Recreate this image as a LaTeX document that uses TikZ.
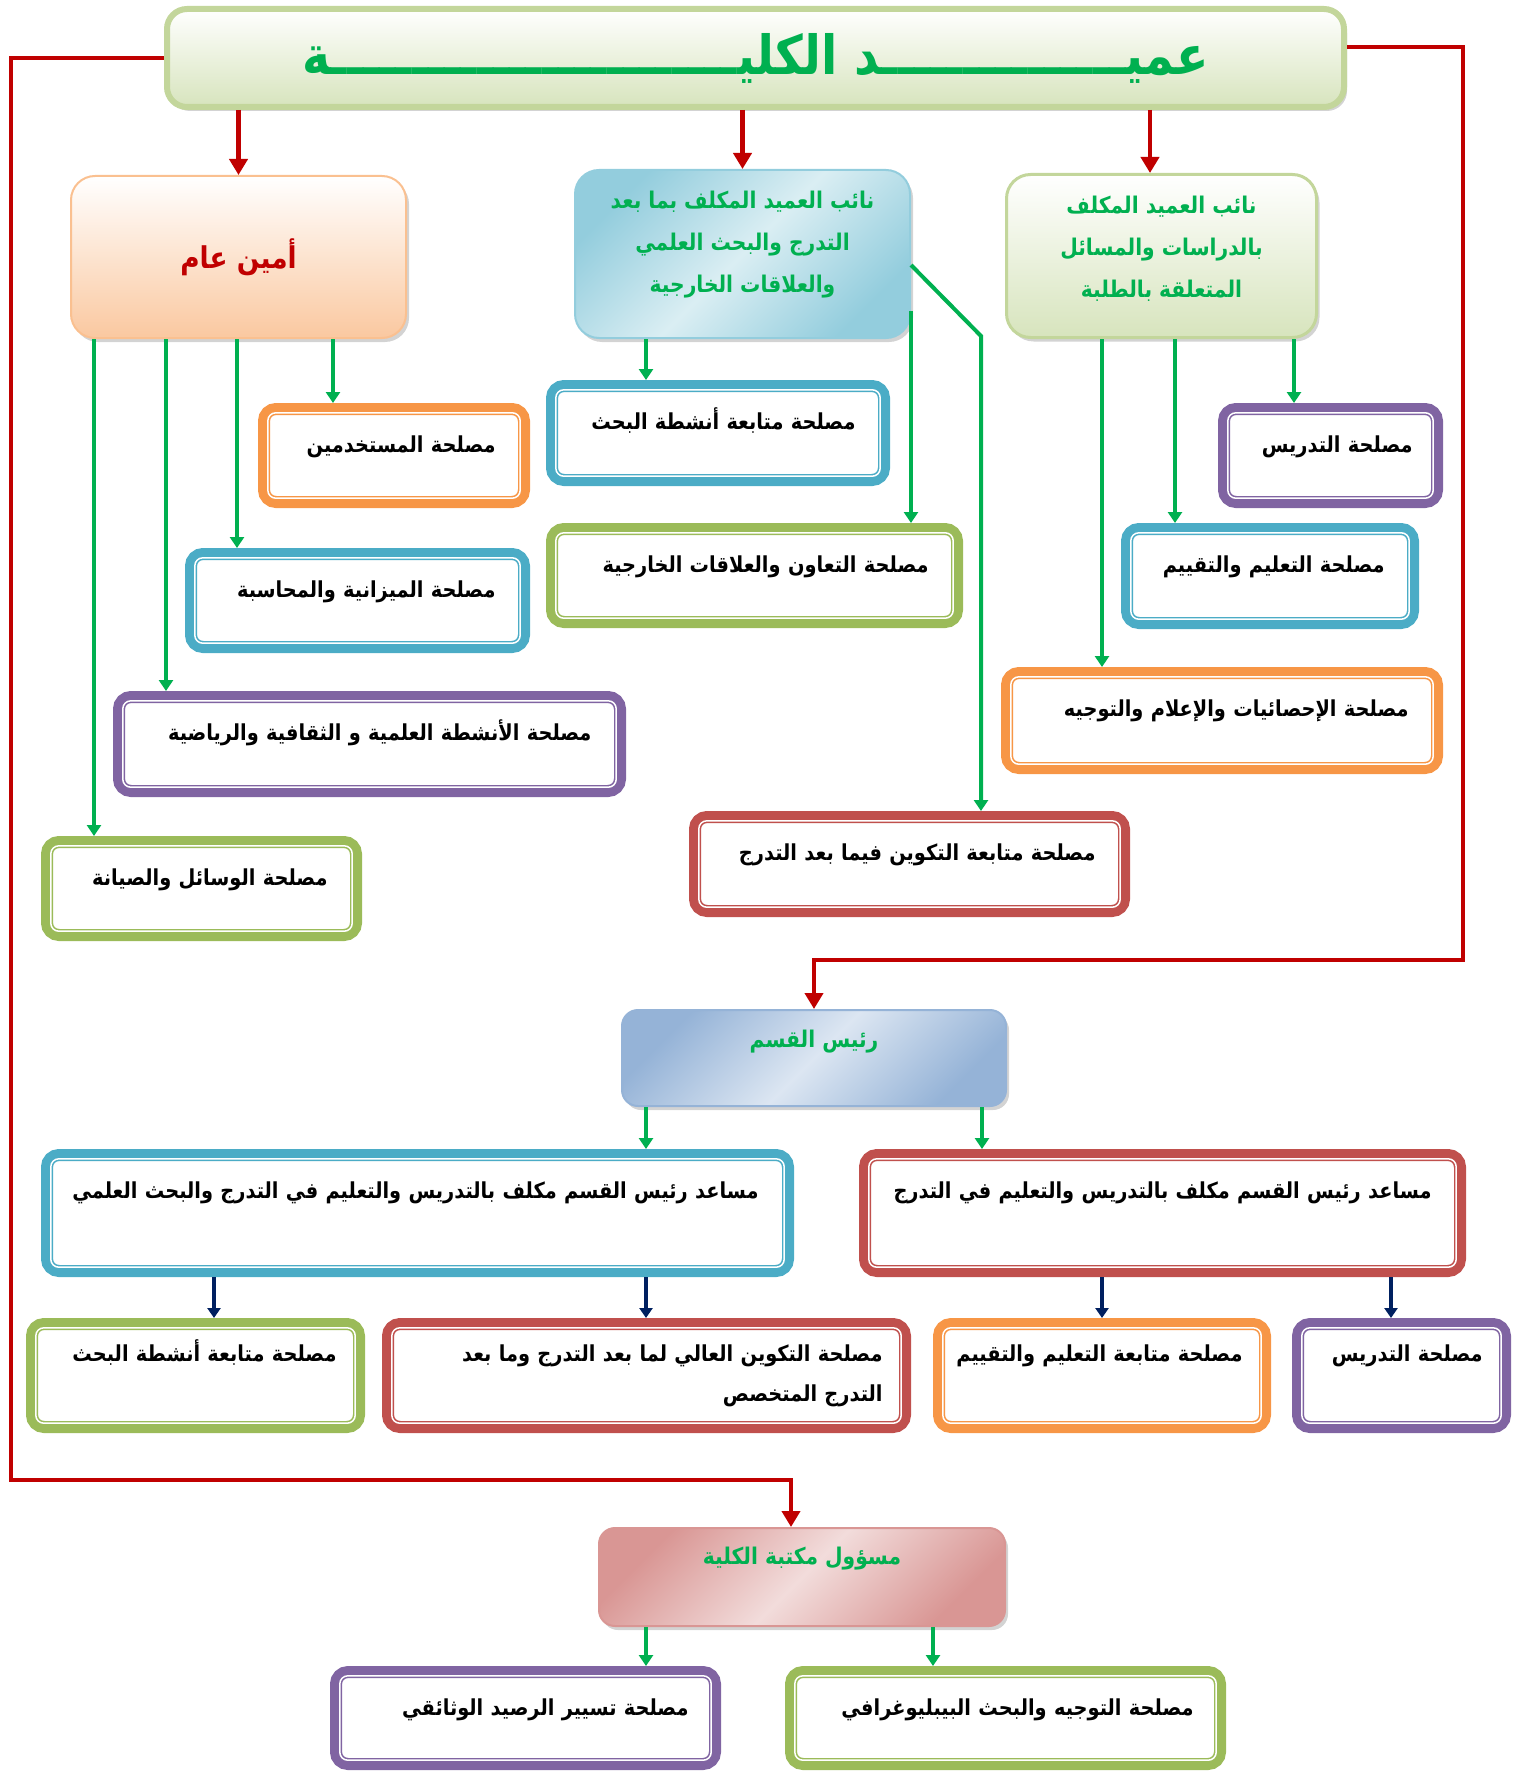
\documentclass[tikz,border=0pt]{standalone}
\usepackage{fontspec}
\newfontfamily\arabicfont[Script=Arabic,FakeStretch=0.88]{DejaVu Sans}
\TeXXeTstate=1
\usepackage{xcolor}
\definecolor{linegreen}{RGB}{0,176,80}
\definecolor{linered}{RGB}{192,0,0}
\definecolor{linenavy}{RGB}{0,32,96}
\definecolor{bordblue}{RGB}{75,172,198}
\definecolor{bordgreen}{RGB}{155,187,89}
\definecolor{bordpurple}{RGB}{128,100,162}
\definecolor{bordorange}{RGB}{247,150,70}
\definecolor{bordred}{RGB}{192,80,77}
\definecolor{deanedge}{RGB}{195,214,155}
\definecolor{deanfill}{RGB}{215,228,189}
\definecolor{aminfill}{RGB}{250,200,160}
\definecolor{aminedge}{RGB}{250,192,144}
\definecolor{vpblue}{RGB}{147,205,221}
\definecolor{vplight}{RGB}{218,238,243}
\definecolor{raisblue}{RGB}{149,179,215}
\definecolor{raislight}{RGB}{220,230,242}
\definecolor{libpink}{RGB}{217,150,148}
\definecolor{liblight}{RGB}{242,220,219}
\usepackage{tikz}
\usetikzlibrary{arrows.meta,shadows}
\newcommand{\artext}[1]{\beginR #1\endR}
\newcommand{\tw}{ـ}
\tikzset{
  redarrow/.style={draw=linered,line width=2.25pt,-{Triangle[width=9pt,length=8pt]}},
  grarrow/.style={draw=linegreen,line width=2pt,-{Triangle[width=7pt,length=5.5pt]}},
  navyarrow/.style={draw=linenavy,line width=2pt,-{Triangle[width=6.5pt,length=5pt]}},
  servbox/.style={draw=#1,line width=6pt,rounded corners=6pt,fill=white},
  servtext/.style={anchor=base east,inner sep=0pt,align=right,
    font=\arabicfont\bfseries\fontsize{11}{20}\selectfont},
  headbox/.style={line width=1pt,rounded corners=12pt,
    drop shadow={shadow xshift=1.5pt,shadow yshift=-2pt,opacity=0.35}},
  headtext/.style={inner sep=0pt,align=center,text=linegreen,
    font=\arabicfont\bfseries\fontsize{11.5}{21}\selectfont}
}
% #1 name, #2 colour, #3 centre, #4 width, #5 height (px), #6 pad, #7 baseline, #8 text
\newcommand{\servbox}[8]{%
  \node[servbox=#2,minimum width={#4*0.5pt-6pt},minimum height={#5*0.5pt-6pt}] (#1) at (#3) {};
  \draw[white,line width=0.75pt,rounded corners=4pt]
    ([shift={(4.9pt,-4.9pt)}]#1.north west) rectangle ([shift={(-4.9pt,4.9pt)}]#1.south east);
  \node[servtext,text width={#4*0.5pt}] (#1t) at ([xshift=-#6,yshift=-#7]#1.north east) {#8};}

\begin{document}
\begin{tikzpicture}[x=0.5pt,y=-0.5pt]
  \useasboundingbox (0,0) rectangle (1523,1771);
  % dean and deputies
  \node[headbox,draw=deanedge,line width=3pt,top color=white,bottom color=deanfill,
    rounded corners=10pt,minimum width=588.5pt,minimum height=49pt,text=linegreen,
    font=\arabicfont\bfseries\fontsize{27}{30}\selectfont] (dean) at (755.5,58)
    {\artext{عمي\tw\tw\tw\tw\tw\tw\tw\tw\tw\tw\tw\tw\tw\tw\tw د الكلي\tw\tw\tw\tw\tw\tw\tw\tw\tw\tw\tw\tw\tw\tw\tw\tw\tw\tw\tw\tw\tw\tw\tw\tw\tw ة}};
  \node[headbox,draw=aminedge,top color=white,bottom color=aminfill,
    minimum width=167.5pt,minimum height=81pt,text=linered,
    font=\arabicfont\bfseries\fontsize{15}{18}\selectfont] (amin) at (238.5,257) {\artext{أمين عام}};
  \node[headbox,draw=vpblue,top color=vpblue,bottom color=vpblue,middle color=vplight,
    shading angle=45,minimum width=167.5pt,minimum height=84pt] (vppg) at (742.5,254) {};
  \node[headtext] (vppgt) at ([yshift=4.5pt]vppg.center)
    {\artext{نائب العميد المكلف بما بعد}\\\artext{التدرج والبحث العلمي}\\\artext{والعلاقات الخارجية}};
  \node[headbox,draw=deanedge,line width=1.5pt,top color=white,bottom color=deanfill,
    minimum width=155pt,minimum height=81.5pt] (vps) at (1161.5,256) {};
  \node[headtext] (vpst) at ([yshift=3.75pt]vps.center)
    {\artext{نائب العميد المكلف}\\\artext{بالدراسات والمسائل}\\\artext{المتعلقة بالطلبة}};
  % services under the deputies
  \servbox{mustakh}{bordorange}{394,455.5}{272}{105}{17pt}{24.5pt}{\artext{مصلحة المستخدمين}}
  \servbox{mizan}{bordblue}{357.5,600.5}{345}{105}{17pt}{24.5pt}{\artext{مصلحة الميزانية والمحاسبة}}
  \servbox{anshita}{bordpurple}{369.5,744}{513}{106}{17pt}{24.5pt}{\artext{مصلحة الأنشطة العلمية و الثقافية والرياضية}}
  \servbox{wasail}{bordgreen}{201.5,888.5}{321}{105}{17pt}{24.5pt}{\artext{مصلحة الوسائل والصيانة}}
  \servbox{mutabahth}{bordblue}{718,433}{344}{106}{17pt}{24.5pt}{\artext{مصلحة متابعة أنشطة البحث}}
  \servbox{taawun}{bordgreen}{754.5,575.5}{417}{105}{17pt}{24.5pt}{\artext{مصلحة التعاون والعلاقات الخارجية}}
  \servbox{takwin}{bordred}{909.5,864}{441}{106}{17pt}{24.5pt}{\artext{مصلحة متابعة التكوين فيما بعد التدرج}}
  \servbox{tadris}{bordpurple}{1330.5,455.5}{225}{105}{15pt}{24.5pt}{\artext{مصلحة التدريس}}
  \servbox{talim}{bordblue}{1270,576}{298}{106}{17pt}{24.5pt}{\artext{مصلحة التعليم والتقييم}}
  \servbox{ihsa}{bordorange}{1222,720.5}{442}{107}{17pt}{24.5pt}{\artext{مصلحة الإحصائيات والإعلام والتوجيه}}
  % head of department
  \node[headbox,draw=raisblue,top color=raisblue,bottom color=raisblue,middle color=raislight,
    shading angle=45,rounded corners=8pt,minimum width=192pt,minimum height=48pt] (rais) at (814,1058) {};
  \node[headtext] (raist) at ([yshift=8pt]rais.center) {\artext{رئيس القسم}};
  \servbox{asstL}{bordblue}{417.5,1213}{753}{128}{17.5pt}{24.5pt}{\artext{مساعد رئيس القسم مكلف بالتدريس والتعليم في التدرج والبحث العلمي}}
  \servbox{asstR}{bordred}{1162.5,1213}{607}{128}{17pt}{24.5pt}{\artext{مساعد رئيس القسم مكلف بالتدريس والتعليم في التدرج}}
  \servbox{depbahth}{bordgreen}{195.5,1375.5}{339}{115}{14pt}{21.5pt}{\artext{مصلحة متابعة أنشطة البحث}}
  \servbox{deptakwin}{bordred}{646.5,1375.5}{529}{115}{14pt}{21.5pt}{\artext{مصلحة التكوين العالي لما بعد التدرج وما بعد}\\\artext{التدرج المتخصص}}
  \servbox{deptalim}{bordorange}{1102,1375.5}{338}{115}{14pt}{21.5pt}{\artext{مصلحة متابعة التعليم والتقييم}}
  \servbox{deptadris}{bordpurple}{1401.5,1375.5}{219}{115}{14pt}{21.5pt}{\artext{مصلحة التدريس}}
  % library
  \node[headbox,draw=libpink,top color=libpink,bottom color=libpink,middle color=liblight,
    shading angle=45,rounded corners=8pt,minimum width=203pt,minimum height=49pt] (lib) at (802,1577) {};
  \node[headtext] (libt) at ([yshift=9pt]lib.center) {\artext{مسؤول مكتبة الكلية}};
  \servbox{libfonds}{bordpurple}{525.5,1718}{391}{104}{16pt}{24.5pt}{\artext{مصلحة تسيير الرصيد الوثائقي}}
  \servbox{libbiblio}{bordgreen}{1005.5,1718}{441}{104}{16pt}{24.5pt}{\artext{مصلحة التوجيه والبحث البيبليوغرافي}}
  % connectors
  \draw[redarrow] (dean.south -| amin.north) -- (amin.north);
  \draw[redarrow] (dean.south -| vppg.north) -- (vppg.north);
  \draw[redarrow] (dean.south -| 1150,0) -- (vps.north -| 1150,0);
  \draw[redarrow] (dean.west) -| (11,1480) -| ([xshift=-5.5pt]lib.north);
  \draw[redarrow] ([yshift=5.5pt]dean.east) -| (1463,960) -| (rais.north);
  \draw[grarrow] (amin.south -| 94,0) -- (wasail.north -| 94,0);
  \draw[grarrow] (amin.south -| 166,0) -- (anshita.north -| 166,0);
  \draw[grarrow] (amin.south -| 237,0) -- (mizan.north -| 237,0);
  \draw[grarrow] (amin.south -| 333,0) -- (mustakh.north -| 333,0);
  \draw[grarrow] (vppg.south -| 646,0) -- (mutabahth.north -| 646,0);
  \draw[grarrow] (vppg.east |- 0,311) -- (vppg.east |- taawun.north);
  \draw[grarrow] ([yshift=-5.5pt]vppg.east) -- ++(70,71) coordinate (vbend) -- (vbend |- takwin.north);
  \draw[grarrow] (vps.south -| 1294,0) -- (tadris.north -| 1294,0);
  \draw[grarrow] (vps.south -| 1175,0) -- (talim.north -| 1175,0);
  \draw[grarrow] (vps.south -| 1102,0) -- (ihsa.north -| 1102,0);
  \draw[grarrow] (rais.south -| 646,0) -- (asstL.north -| 646,0);
  \draw[grarrow] (rais.south -| 982,0) -- (asstR.north -| 982,0);
  \draw[navyarrow] (asstL.south -| 214,0) -- (depbahth.north -| 214,0);
  \draw[navyarrow] (asstL.south -| 646,0) -- (deptakwin.north -| 646,0);
  \draw[navyarrow] (asstR.south -| 1102,0) -- (deptalim.north -| 1102,0);
  \draw[navyarrow] (asstR.south -| 1391,0) -- (deptadris.north -| 1391,0);
  \draw[grarrow] (lib.south -| 646,0) -- (libfonds.north -| 646,0);
  \draw[grarrow] (lib.south -| 933,0) -- (libbiblio.north -| 933,0);
\end{tikzpicture}
\end{document}
